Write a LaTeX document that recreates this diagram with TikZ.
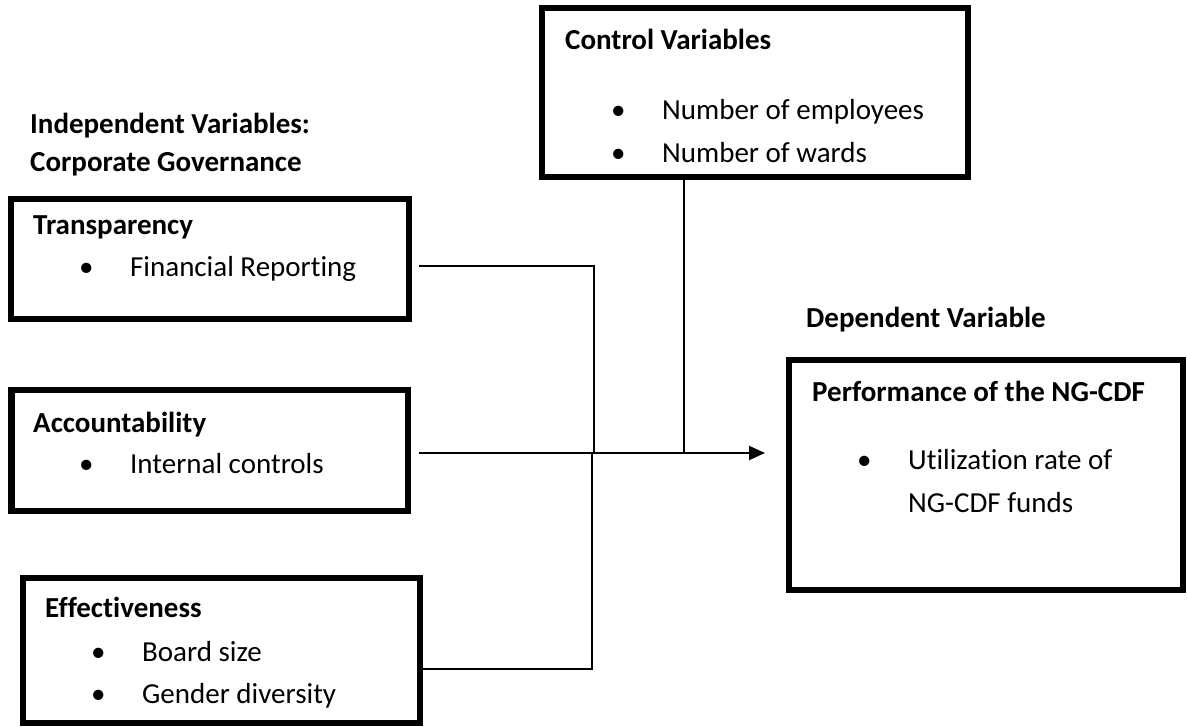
\documentclass[tikz,border=0pt]{standalone}
\usepackage{fontspec}
\setmainfont{Carlito}[Ligatures=NoCommon]
\usetikzlibrary{arrows.meta}

\begin{document}
\begin{tikzpicture}[x=1pt,y=-1pt,font=\fontsize{29}{35}\selectfont]
  \tikzset{var box/.style={draw,line width=6.5pt,inner sep=0pt},
           txt/.style={anchor=base west,inner sep=0pt},
           head/.style={txt,font=\fontsize{29}{35}\selectfont\bfseries},
           link/.style={line width=2pt}}
  \useasboundingbox (0,0) rectangle (1187,727);

  % boxes
  \node [var box,minimum width=426pt,minimum height=169pt] (ctrl) at (755,92.5) {};
  \node [var box,minimum width=398pt,minimum height=120pt] (transp) at (210,259) {};
  \node [var box,minimum width=396.5pt,minimum height=121pt] (acct) at (209.75,450.5) {};
  \node [var box,minimum width=397pt,minimum height=145pt] (effect) at (221.5,650.5) {};
  \node [var box,minimum width=394pt,minimum height=230pt] (perf) at (986,475) {};

  % headings
  \node [head] (indep) at (30,134) {Independent Variables:};
  \node [head] (corp) at (30,172) {Corporate Governance};
  \node [head] (depend) at (806,328) {Dependent Variable};
  \node [head] (ctrlhead) at (565,49.5) {Control Variables};
  \node [head] (transphead) at (33,234.5) {Transparency};
  \node [head] (accthead) at (33,432.5) {Accountability};
  \node [head] (effecthead) at (45,617.5) {Effectiveness};
  \node [head] (perfhead) at (812,401.5) {Performance of the NG-CDF};

  % bullet items
  \node [txt] (emp) at (611,119.5) {\makebox[51pt][l]{•}Number of employees};
  \node [txt] (ward) at (611,162.5) {\makebox[51pt][l]{•}Number of wards};
  \node [txt] (fin) at (79,276.5) {\makebox[51pt][l]{•}Financial Reporting};
  \node [txt] (intc) at (79,473.5) {\makebox[51pt][l]{•}Internal controls};
  \node [txt] (board) at (91,661.5) {\makebox[51pt][l]{•}Board size};
  \node [txt] (gender) at (91,703.5) {\makebox[51pt][l]{•}Gender diversity};
  \node [txt] (util) at (857,469.5) {\makebox[51pt][l]{•}Utilization rate of};
  \node [txt] (funds) at (908,512.5) {NG-CDF funds};

  % connectors
  \coordinate (t1) at (419,266);
  \coordinate (a1) at (419,453);
  \coordinate (e1) at (423,669);
  \coordinate (c1) at (684,180);
  \coordinate (tip) at (765,453);
  \draw [link] (t1) -- (594,266) -- (594,453);
  \draw [link] (e1) -- (592,669) -- (592,453);
  \draw [link] (c1) -- (684,453);
  \draw [link,-{Triangle[length=16pt,width=14pt]}] (a1) -- (tip);
\end{tikzpicture}
\end{document}
